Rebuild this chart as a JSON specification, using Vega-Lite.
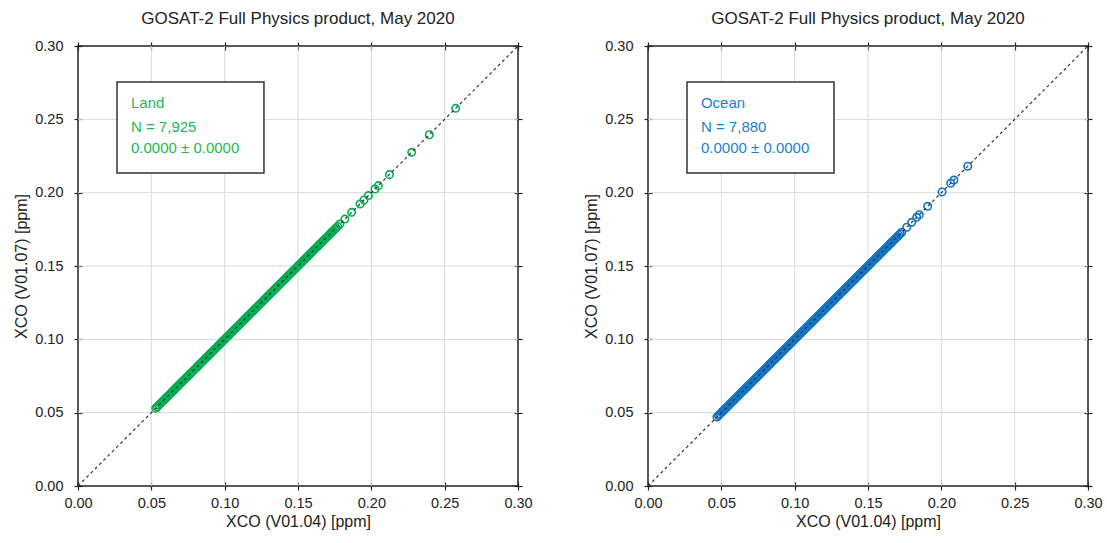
{
  "$schema": "https://vega.github.io/schema/vega-lite/v6.json",
  "padding": {"left": 13, "top": 9, "right": 5, "bottom": 5},
  "bounds": "flush",
  "spacing": 130,
  "background": "white",
  "config": {
    "font": "Liberation Sans",
    "view": {"stroke": "#222", "strokeWidth": 1.5},
    "title": {"fontSize": 17, "fontWeight": "normal", "color": "#222", "offset": 10},
    "axis": {
      "domain": false,
      "grid": false,
      "labelFlush": false,
      "tickColor": "#222",
      "tickWidth": 1.2,
      "tickSize": 8,
      "offset": -4,
      "labelFontSize": 14.5,
      "labelColor": "#222",
      "titleFontSize": 16,
      "titleFontWeight": "normal",
      "titleColor": "#222"
    }
  },
  "datasets": {
    "land": [
      {"v04":0.053,"v07":0.053},{"v04":0.054,"v07":0.054},{"v04":0.055,"v07":0.055},{"v04":0.056,"v07":0.056},{"v04":0.057,"v07":0.057},{"v04":0.058,"v07":0.058},{"v04":0.059,"v07":0.059},
      {"v04":0.060,"v07":0.060},{"v04":0.061,"v07":0.061},{"v04":0.062,"v07":0.062},{"v04":0.063,"v07":0.063},{"v04":0.064,"v07":0.064},{"v04":0.065,"v07":0.065},{"v04":0.066,"v07":0.066},{"v04":0.067,"v07":0.067},{"v04":0.068,"v07":0.068},{"v04":0.069,"v07":0.069},
      {"v04":0.070,"v07":0.070},{"v04":0.071,"v07":0.071},{"v04":0.072,"v07":0.072},{"v04":0.073,"v07":0.073},{"v04":0.074,"v07":0.074},{"v04":0.075,"v07":0.075},{"v04":0.076,"v07":0.076},{"v04":0.077,"v07":0.077},{"v04":0.078,"v07":0.078},{"v04":0.079,"v07":0.079},
      {"v04":0.080,"v07":0.080},{"v04":0.081,"v07":0.081},{"v04":0.082,"v07":0.082},{"v04":0.083,"v07":0.083},{"v04":0.084,"v07":0.084},{"v04":0.085,"v07":0.085},{"v04":0.086,"v07":0.086},{"v04":0.087,"v07":0.087},{"v04":0.088,"v07":0.088},{"v04":0.089,"v07":0.089},
      {"v04":0.090,"v07":0.090},{"v04":0.091,"v07":0.091},{"v04":0.092,"v07":0.092},{"v04":0.093,"v07":0.093},{"v04":0.094,"v07":0.094},{"v04":0.095,"v07":0.095},{"v04":0.096,"v07":0.096},{"v04":0.097,"v07":0.097},{"v04":0.098,"v07":0.098},{"v04":0.099,"v07":0.099},
      {"v04":0.100,"v07":0.100},{"v04":0.101,"v07":0.101},{"v04":0.102,"v07":0.102},{"v04":0.103,"v07":0.103},{"v04":0.104,"v07":0.104},{"v04":0.105,"v07":0.105},{"v04":0.106,"v07":0.106},{"v04":0.107,"v07":0.107},{"v04":0.108,"v07":0.108},{"v04":0.109,"v07":0.109},
      {"v04":0.110,"v07":0.110},{"v04":0.111,"v07":0.111},{"v04":0.112,"v07":0.112},{"v04":0.113,"v07":0.113},{"v04":0.114,"v07":0.114},{"v04":0.115,"v07":0.115},{"v04":0.116,"v07":0.116},{"v04":0.117,"v07":0.117},{"v04":0.118,"v07":0.118},{"v04":0.119,"v07":0.119},
      {"v04":0.120,"v07":0.120},{"v04":0.121,"v07":0.121},{"v04":0.122,"v07":0.122},{"v04":0.123,"v07":0.123},{"v04":0.124,"v07":0.124},{"v04":0.125,"v07":0.125},{"v04":0.126,"v07":0.126},{"v04":0.127,"v07":0.127},{"v04":0.128,"v07":0.128},{"v04":0.129,"v07":0.129},
      {"v04":0.130,"v07":0.130},{"v04":0.131,"v07":0.131},{"v04":0.132,"v07":0.132},{"v04":0.133,"v07":0.133},{"v04":0.134,"v07":0.134},{"v04":0.135,"v07":0.135},{"v04":0.136,"v07":0.136},{"v04":0.137,"v07":0.137},{"v04":0.138,"v07":0.138},{"v04":0.139,"v07":0.139},
      {"v04":0.140,"v07":0.140},{"v04":0.141,"v07":0.141},{"v04":0.142,"v07":0.142},{"v04":0.143,"v07":0.143},{"v04":0.144,"v07":0.144},{"v04":0.145,"v07":0.145},{"v04":0.146,"v07":0.146},{"v04":0.147,"v07":0.147},{"v04":0.148,"v07":0.148},{"v04":0.149,"v07":0.149},
      {"v04":0.150,"v07":0.150},{"v04":0.151,"v07":0.151},{"v04":0.152,"v07":0.152},{"v04":0.153,"v07":0.153},{"v04":0.154,"v07":0.154},{"v04":0.155,"v07":0.155},{"v04":0.156,"v07":0.156},{"v04":0.157,"v07":0.157},{"v04":0.158,"v07":0.158},{"v04":0.159,"v07":0.159},
      {"v04":0.160,"v07":0.160},{"v04":0.161,"v07":0.161},{"v04":0.162,"v07":0.162},{"v04":0.163,"v07":0.163},{"v04":0.164,"v07":0.164},{"v04":0.165,"v07":0.165},{"v04":0.166,"v07":0.166},{"v04":0.167,"v07":0.167},{"v04":0.168,"v07":0.168},{"v04":0.169,"v07":0.169},
      {"v04":0.170,"v07":0.170},{"v04":0.171,"v07":0.171},{"v04":0.172,"v07":0.172},{"v04":0.173,"v07":0.173},{"v04":0.174,"v07":0.174},{"v04":0.175,"v07":0.175},{"v04":0.176,"v07":0.176},{"v04":0.177,"v07":0.177},
      {"v04":0.1786,"v07":0.1786},{"v04":0.182,"v07":0.182},{"v04":0.1866,"v07":0.1866},
      {"v04":0.1923,"v07":0.1923},{"v04":0.195,"v07":0.195},{"v04":0.198,"v07":0.198},
      {"v04":0.2025,"v07":0.2025},{"v04":0.2048,"v07":0.2048},{"v04":0.2123,"v07":0.2123},
      {"v04":0.2275,"v07":0.2275},{"v04":0.2395,"v07":0.2395},{"v04":0.2575,"v07":0.2575}
    ],
    "ocean": [
      {"v04":0.047,"v07":0.047},{"v04":0.048,"v07":0.048},{"v04":0.049,"v07":0.049},
      {"v04":0.050,"v07":0.050},{"v04":0.051,"v07":0.051},{"v04":0.052,"v07":0.052},{"v04":0.053,"v07":0.053},{"v04":0.054,"v07":0.054},{"v04":0.055,"v07":0.055},{"v04":0.056,"v07":0.056},{"v04":0.057,"v07":0.057},{"v04":0.058,"v07":0.058},{"v04":0.059,"v07":0.059},
      {"v04":0.060,"v07":0.060},{"v04":0.061,"v07":0.061},{"v04":0.062,"v07":0.062},{"v04":0.063,"v07":0.063},{"v04":0.064,"v07":0.064},{"v04":0.065,"v07":0.065},{"v04":0.066,"v07":0.066},{"v04":0.067,"v07":0.067},{"v04":0.068,"v07":0.068},{"v04":0.069,"v07":0.069},
      {"v04":0.070,"v07":0.070},{"v04":0.071,"v07":0.071},{"v04":0.072,"v07":0.072},{"v04":0.073,"v07":0.073},{"v04":0.074,"v07":0.074},{"v04":0.075,"v07":0.075},{"v04":0.076,"v07":0.076},{"v04":0.077,"v07":0.077},{"v04":0.078,"v07":0.078},{"v04":0.079,"v07":0.079},
      {"v04":0.080,"v07":0.080},{"v04":0.081,"v07":0.081},{"v04":0.082,"v07":0.082},{"v04":0.083,"v07":0.083},{"v04":0.084,"v07":0.084},{"v04":0.085,"v07":0.085},{"v04":0.086,"v07":0.086},{"v04":0.087,"v07":0.087},{"v04":0.088,"v07":0.088},{"v04":0.089,"v07":0.089},
      {"v04":0.090,"v07":0.090},{"v04":0.091,"v07":0.091},{"v04":0.092,"v07":0.092},{"v04":0.093,"v07":0.093},{"v04":0.094,"v07":0.094},{"v04":0.095,"v07":0.095},{"v04":0.096,"v07":0.096},{"v04":0.097,"v07":0.097},{"v04":0.098,"v07":0.098},{"v04":0.099,"v07":0.099},
      {"v04":0.100,"v07":0.100},{"v04":0.101,"v07":0.101},{"v04":0.102,"v07":0.102},{"v04":0.103,"v07":0.103},{"v04":0.104,"v07":0.104},{"v04":0.105,"v07":0.105},{"v04":0.106,"v07":0.106},{"v04":0.107,"v07":0.107},{"v04":0.108,"v07":0.108},{"v04":0.109,"v07":0.109},
      {"v04":0.110,"v07":0.110},{"v04":0.111,"v07":0.111},{"v04":0.112,"v07":0.112},{"v04":0.113,"v07":0.113},{"v04":0.114,"v07":0.114},{"v04":0.115,"v07":0.115},{"v04":0.116,"v07":0.116},{"v04":0.117,"v07":0.117},{"v04":0.118,"v07":0.118},{"v04":0.119,"v07":0.119},
      {"v04":0.120,"v07":0.120},{"v04":0.121,"v07":0.121},{"v04":0.122,"v07":0.122},{"v04":0.123,"v07":0.123},{"v04":0.124,"v07":0.124},{"v04":0.125,"v07":0.125},{"v04":0.126,"v07":0.126},{"v04":0.127,"v07":0.127},{"v04":0.128,"v07":0.128},{"v04":0.129,"v07":0.129},
      {"v04":0.130,"v07":0.130},{"v04":0.131,"v07":0.131},{"v04":0.132,"v07":0.132},{"v04":0.133,"v07":0.133},{"v04":0.134,"v07":0.134},{"v04":0.135,"v07":0.135},{"v04":0.136,"v07":0.136},{"v04":0.137,"v07":0.137},{"v04":0.138,"v07":0.138},{"v04":0.139,"v07":0.139},
      {"v04":0.140,"v07":0.140},{"v04":0.141,"v07":0.141},{"v04":0.142,"v07":0.142},{"v04":0.143,"v07":0.143},{"v04":0.144,"v07":0.144},{"v04":0.145,"v07":0.145},{"v04":0.146,"v07":0.146},{"v04":0.147,"v07":0.147},{"v04":0.148,"v07":0.148},{"v04":0.149,"v07":0.149},
      {"v04":0.150,"v07":0.150},{"v04":0.151,"v07":0.151},{"v04":0.152,"v07":0.152},{"v04":0.153,"v07":0.153},{"v04":0.154,"v07":0.154},{"v04":0.155,"v07":0.155},{"v04":0.156,"v07":0.156},{"v04":0.157,"v07":0.157},{"v04":0.158,"v07":0.158},{"v04":0.159,"v07":0.159},
      {"v04":0.160,"v07":0.160},{"v04":0.161,"v07":0.161},{"v04":0.162,"v07":0.162},{"v04":0.163,"v07":0.163},{"v04":0.164,"v07":0.164},{"v04":0.165,"v07":0.165},{"v04":0.166,"v07":0.166},{"v04":0.167,"v07":0.167},{"v04":0.168,"v07":0.168},{"v04":0.169,"v07":0.169},
      {"v04":0.170,"v07":0.170},{"v04":0.171,"v07":0.171},{"v04":0.172,"v07":0.172},{"v04":0.173,"v07":0.173},
      {"v04":0.1764,"v07":0.1764},{"v04":0.1798,"v07":0.1798},{"v04":0.1832,"v07":0.1832},
      {"v04":0.185,"v07":0.185},{"v04":0.1907,"v07":0.1907},{"v04":0.2005,"v07":0.2005},
      {"v04":0.2064,"v07":0.2064},{"v04":0.2086,"v07":0.2086},{"v04":0.218,"v07":0.218}
    ],
    "grid": [{"g": 0.05}, {"g": 0.1}, {"g": 0.15}, {"g": 0.2}, {"g": 0.25}],
    "diag": [{"a": 0, "b": 0}, {"a": 0.3, "b": 0.3}],
    "box": [{"x1": 0.0266, "x2": 0.1268, "y1": 0.2134, "y2": 0.2755}],
    "landtext": [
      {"tx": 0.0361, "ty": 0.2611, "label": "Land"},
      {"tx": 0.0361, "ty": 0.2448, "label": "N = 7,925"},
      {"tx": 0.0361, "ty": 0.2305, "label": "0.0000 ± 0.0000"}
    ],
    "oceantext": [
      {"tx": 0.0361, "ty": 0.2611, "label": "Ocean"},
      {"tx": 0.0361, "ty": 0.2448, "label": "N = 7,880"},
      {"tx": 0.0361, "ty": 0.2305, "label": "0.0000 ± 0.0000"}
    ]
  },
  "hconcat": [
    {
      "width": 440,
      "height": 440,
      "title": "GOSAT-2 Full Physics product, May 2020",
      "resolve": {"axis": {"x": "independent", "y": "independent"}},
      "layer": [
        {
          "data": {"name": "grid"},
          "mark": {"type": "rule", "color": "#d9d9d9", "strokeWidth": 1},
          "encoding": {
            "x": {"field": "g", "type": "quantitative", "scale": {"domain": [0, 0.3], "nice": false, "zero": false},
              "axis": {"orient": "bottom", "values": [0, 0.05, 0.1, 0.15, 0.2, 0.25, 0.3], "format": ".2f", "title": "XCO (V01.04) [ppm]", "labelPadding": 6, "titlePadding": 4}}
          }
        },
        {
          "data": {"name": "grid"},
          "mark": {"type": "rule", "color": "#d9d9d9", "strokeWidth": 1},
          "encoding": {
            "y": {"field": "g", "type": "quantitative", "scale": {"domain": [0, 0.3], "nice": false, "zero": false},
              "axis": {"orient": "left", "values": [0, 0.05, 0.1, 0.15, 0.2, 0.25, 0.3], "format": ".2f", "title": "XCO (V01.07) [ppm]", "labelPadding": 11, "titlePadding": 5}}
          }
        },
        {
          "data": {"name": "land"},
          "mark": {"type": "point", "shape": "circle", "filled": false, "size": 55, "strokeWidth": 1.6, "color": "#00AD50", "opacity": 1},
          "encoding": {
            "x": {"field": "v04", "type": "quantitative", "axis": null},
            "y": {"field": "v07", "type": "quantitative", "axis": null}
          }
        },
        {
          "data": {"name": "diag"},
          "mark": {"type": "line", "color": "#333", "strokeWidth": 1.2, "strokeDash": [3, 3]},
          "encoding": {
            "x": {"field": "a", "type": "quantitative", "axis": {"orient": "top", "values": [0, 0.05, 0.1, 0.15, 0.2, 0.25, 0.3], "labels": false, "title": null}},
            "y": {"field": "b", "type": "quantitative", "axis": {"orient": "right", "values": [0, 0.05, 0.1, 0.15, 0.2, 0.25, 0.3], "labels": false, "title": null}}
          }
        },
        {
          "data": {"name": "box"},
          "mark": {"type": "rect", "fill": "white", "stroke": "#333", "strokeWidth": 1.5},
          "encoding": {
            "x": {"field": "x1", "type": "quantitative", "axis": null},
            "x2": {"field": "x2"},
            "y": {"field": "y1", "type": "quantitative", "axis": null},
            "y2": {"field": "y2"}
          }
        },
        {
          "data": {"name": "landtext"},
          "mark": {"type": "text", "align": "left", "baseline": "middle", "fontSize": 15, "color": "#1db954"},
          "encoding": {
            "x": {"field": "tx", "type": "quantitative", "axis": null},
            "y": {"field": "ty", "type": "quantitative", "axis": null},
            "text": {"field": "label"}
          }
        }
      ]
    },
    {
      "width": 440,
      "height": 440,
      "title": "GOSAT-2 Full Physics product, May 2020",
      "resolve": {"axis": {"x": "independent", "y": "independent"}},
      "layer": [
        {
          "data": {"name": "grid"},
          "mark": {"type": "rule", "color": "#d9d9d9", "strokeWidth": 1},
          "encoding": {
            "x": {"field": "g", "type": "quantitative", "scale": {"domain": [0, 0.3], "nice": false, "zero": false},
              "axis": {"orient": "bottom", "values": [0, 0.05, 0.1, 0.15, 0.2, 0.25, 0.3], "format": ".2f", "title": "XCO (V01.04) [ppm]", "labelPadding": 6, "titlePadding": 4}}
          }
        },
        {
          "data": {"name": "grid"},
          "mark": {"type": "rule", "color": "#d9d9d9", "strokeWidth": 1},
          "encoding": {
            "y": {"field": "g", "type": "quantitative", "scale": {"domain": [0, 0.3], "nice": false, "zero": false},
              "axis": {"orient": "left", "values": [0, 0.05, 0.1, 0.15, 0.2, 0.25, 0.3], "format": ".2f", "title": "XCO (V01.07) [ppm]", "labelPadding": 11, "titlePadding": 5}}
          }
        },
        {
          "data": {"name": "ocean"},
          "mark": {"type": "point", "shape": "circle", "filled": false, "size": 55, "strokeWidth": 1.6, "color": "#0e72c4", "opacity": 1},
          "encoding": {
            "x": {"field": "v04", "type": "quantitative", "axis": null},
            "y": {"field": "v07", "type": "quantitative", "axis": null}
          }
        },
        {
          "data": {"name": "diag"},
          "mark": {"type": "line", "color": "#333", "strokeWidth": 1.2, "strokeDash": [3, 3]},
          "encoding": {
            "x": {"field": "a", "type": "quantitative", "axis": {"orient": "top", "values": [0, 0.05, 0.1, 0.15, 0.2, 0.25, 0.3], "labels": false, "title": null}},
            "y": {"field": "b", "type": "quantitative", "axis": {"orient": "right", "values": [0, 0.05, 0.1, 0.15, 0.2, 0.25, 0.3], "labels": false, "title": null}}
          }
        },
        {
          "data": {"name": "box"},
          "mark": {"type": "rect", "fill": "white", "stroke": "#333", "strokeWidth": 1.5},
          "encoding": {
            "x": {"field": "x1", "type": "quantitative", "axis": null},
            "x2": {"field": "x2"},
            "y": {"field": "y1", "type": "quantitative", "axis": null},
            "y2": {"field": "y2"}
          }
        },
        {
          "data": {"name": "oceantext"},
          "mark": {"type": "text", "align": "left", "baseline": "middle", "fontSize": 15, "color": "#1a7fd0"},
          "encoding": {
            "x": {"field": "tx", "type": "quantitative", "axis": null},
            "y": {"field": "ty", "type": "quantitative", "axis": null},
            "text": {"field": "label"}
          }
        }
      ]
    }
  ]
}
